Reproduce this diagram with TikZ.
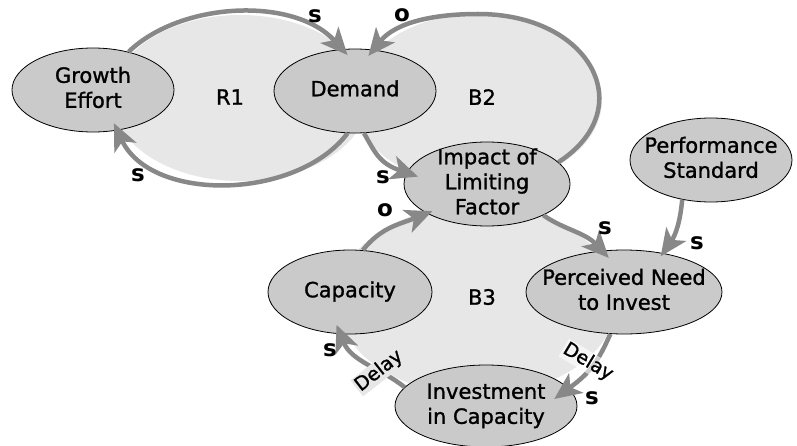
\documentclass[tikz,border=0pt]{standalone}
\usepackage{fontspec}
\setmainfont{DejaVu Sans}
\newfontfamily\medfont{DejaVu Sans}[FakeBold=1.2]
\newfontfamily\polfont{DejaVu Sans Bold}
\usetikzlibrary{arrows.meta,shapes.geometric}
\definecolor{nodegray}{RGB}{202,202,202}
\definecolor{loopgray}{RGB}{231,231,231}
\definecolor{arrgray}{RGB}{136,136,136}
\newcommand{\ntext}[1]{\makebox[0pt]{\raisebox{-11pt}{\smash{\begin{tabular}{@{}c@{}}#1\end{tabular}}}}}
\begin{document}
\begin{tikzpicture}[x=1pt,y=1pt,
  var/.style={ellipse, draw=black, line width=0.8pt, fill=nodegray, inner sep=0pt,
    font=\medfont\fontsize{21}{25}\selectfont},
  blob/.style={fill=loopgray, draw=none},
  conn/.style={draw=arrgray, line width=4.5pt,
    -{Stealth[length=27pt,width=24pt,inset=7pt]}},
  pol/.style={font=\polfont\fontsize{23}{24}\selectfont, inner sep=0pt},
  looplbl/.style={font=\medfont\fontsize{21}{25}\selectfont, inner sep=0pt},
  dly/.style={font=\medfont\fontsize{19}{20}\selectfont, inner sep=1pt}]
\useasboundingbox (0,0) rectangle (797,445);
\fill[white] (0,0) rectangle (797,445);
% loop backgrounds
\fill[blob] (240,347) ellipse [x radius=128, y radius=83];
\fill[blob] (478,345) ellipse [x radius=124, y radius=86];
\fill[blob] (477,145) ellipse [x radius=140, y radius=95];
% variables
\node[var, minimum width=162pt, minimum height=84pt] (ge) at (93,355) {\ntext{Growth\\Effort}};
\node[var, minimum width=162pt, minimum height=84pt] (dem) at (355,354) {\ntext{Demand}};
\node[var, minimum width=166pt, minimum height=84pt] (imp) at (487,261) {\ntext{Impact of\\Limiting\\Factor}};
\node[var, minimum width=162pt, minimum height=84pt] (perf) at (711,285) {\ntext{Performance\\Standard}};
\node[var, minimum width=196pt, minimum height=84pt] (need) at (624,153) {\ntext{Perceived Need\\to Invest}};
\node[var, minimum width=164pt, minimum height=84pt] (cap) at (350,153) {\ntext{Capacity}};
\node[var, minimum width=182pt, minimum height=82pt] (inv) at (486,39) {\ntext{Investment\\in Capacity}};
\coordinate (b2top) at (478,431);
% connectors
\draw[conn, shorten >=-8pt] (ge.47) .. controls +(44:73) and +(132:71) .. (dem.107);
\draw[conn, shorten >=-8pt] (dem.260) .. controls +(233:84) and +(-65:80) .. (ge.301);
\draw[conn, shorten >=-12pt] (dem.282) .. controls +(-60:23) and +(161:29) .. (imp.172);
\draw[conn, shorten >=-8pt] (imp.17) .. controls +(33:98) and +(0:113) .. (b2top)
   .. controls +(180:45) and +(51:35) .. (dem.66);
\draw[conn, shorten >=-6pt] (cap.73) .. controls +(51:30) and +(202:30) .. (imp.206);
\draw[conn, shorten >=-10pt] (imp.-29) .. controls +(-35:25) and +(133:25) .. (need.118);
\draw[conn, shorten >=-4pt] (perf.234) .. controls +(-95:22) and +(55:22) .. (need.45);
\draw[conn, shorten >=-18pt] (need.252) .. controls +(-114:28) and +(36:28) .. (inv.12);
\draw[conn, shorten >=-10pt] (inv.167) .. controls +(141:30) and +(-68:30) .. (cap.257);
% loop labels
\node[looplbl] (r1) at (230,348) {R1};
\node[looplbl] (b2) at (482,348) {B2};
\node[looplbl] (b3) at (482,148) {B3};
% polarity labels
\node[pol] (p1) at (315,429) {s};
\node[pol] (p2) at (402,430) {o};
\node[pol] (p3) at (138,270) {s};
\node[pol] (p4) at (383,268) {s};
\node[pol] (p5) at (385,235) {o};
\node[pol] (p6) at (605,217) {s};
\node[pol] (p7) at (697,202) {s};
\node[pol] (p8) at (330,95) {s};
\node[pol] (p9) at (592,47) {s};
\node[dly, fill=loopgray, rotate=38] (d1) at (379,74) {Delay};
\node[dly, fill=white, fill opacity=0.6, text opacity=1, rotate=-31] (d2) at (588,83) {Delay};
\end{tikzpicture}
\end{document}
